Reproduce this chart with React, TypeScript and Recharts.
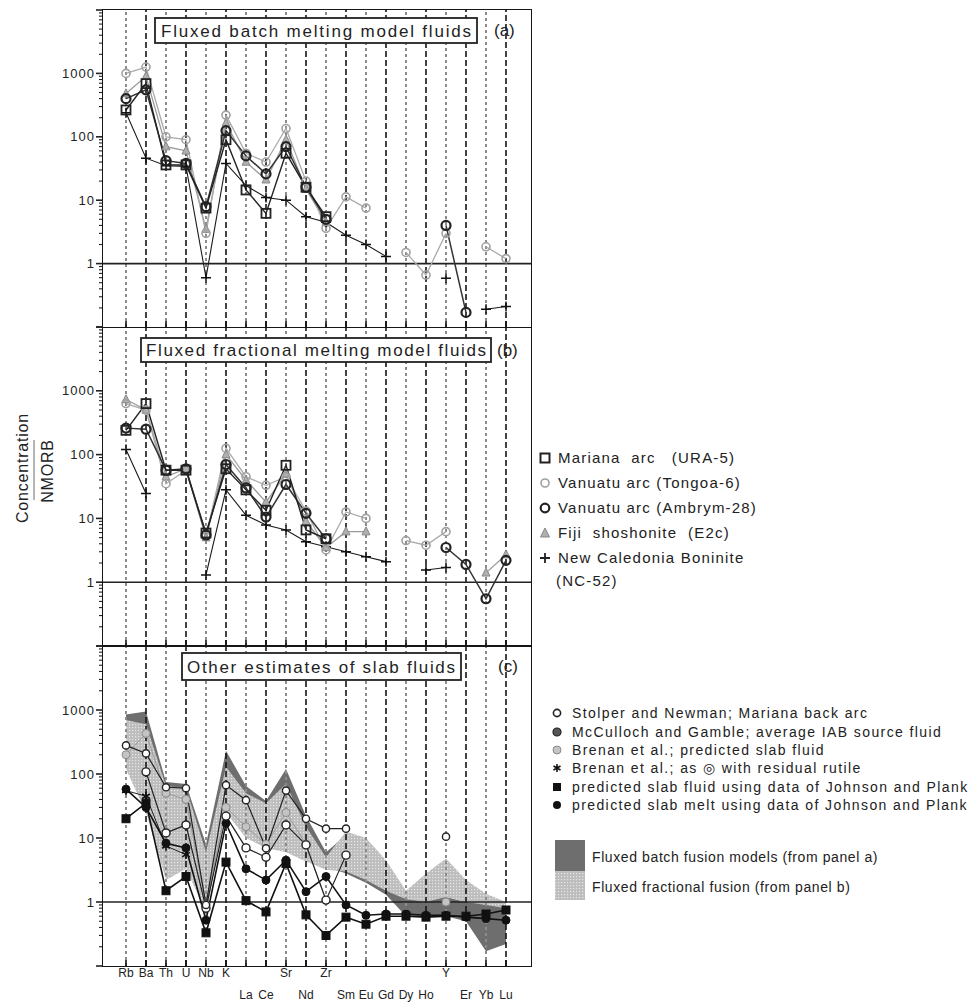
import React from 'react';
import { ComposedChart, Line, Area, XAxis, YAxis, ReferenceLine } from 'recharts';

const N = null;
const elements = ['Rb', 'Ba', 'Th', 'U', 'Nb', 'K', 'La', 'Ce', 'Sr', 'Nd', 'Zr', 'Sm', 'Eu', 'Gd', 'Dy', 'Ho', 'Y', 'Er', 'Yb', 'Lu'];
const lowerRow = ['La', 'Ce', 'Nd', 'Sm', 'Eu', 'Gd', 'Dy', 'Ho', 'Er', 'Yb', 'Lu'];
const yTicks = [0.1, 0.2, 0.3, 0.4, 0.5, 0.6, 0.7, 0.8, 0.9, 1, 2, 3, 4, 5, 6, 7, 8, 9, 10, 20, 30, 40, 50, 60, 70, 80, 90, 100, 200, 300, 400, 500, 600, 700, 800, 900, 1000, 2000, 3000, 4000, 5000, 6000, 7000, 8000, 9000, 10000];
const yLabels = [1, 10, 100, 1000];

// Panel (a) fluxed batch melting model fluids
const marianaA = [265, 690, 36, 36, 7.5, 90, 14.5, 6.2, 55, 16, 5.5, N, N, N, N, N, N, N, N, N];
const tongoaA = [1000, 1260, 100, 90, 3.0, 220, 55, 40, 135, 20, 3.6, 11.3, 7.5, N, 1.5, 0.66, 3.0, N, 1.84, 1.2];
const ambrymA = [400, 550, 42, 38, 7.9, 125, 50, 26, 70, 16, 5.0, N, N, N, N, N, 4.0, 0.17, N, N];
const fijiA = [480, 900, 70, 60, 3.5, 165, 40, 21, 90, 15, 4.5, N, N, N, N, N, N, N, N, N];
const ncA = [240, 46, 35, 34, 0.6, 38, 17, 11, 10, 5.5, 4.5, 2.8, 2.0, 1.3, N, N, 0.59, N, 0.19, 0.21];

// Panel (b) fluxed fractional melting model fluids
const marianaB = [240, 630, 57, 57, 5.9, 60, 28, 13.4, 68, 6.6, 4.8, N, N, N, N, N, N, N, N, N];
const tongoaB = [630, 500, 35, 57, 5.2, 125, 45, 33, 45, 13, 3.2, 12.6, 10, N, 4.5, 3.8, 6.2, N, N, N];
const ambrymB = [260, 250, 57, 60, 5.5, 70, 30, 10.5, 34, 12, 4.8, N, N, N, N, N, 3.5, 1.9, 0.55, 2.2];
const fijiB = [730, 500, 45, 60, 5.0, 100, 40, 18, 50, 9, 3.5, 6.2, 6.2, N, N, N, N, N, 1.4, 2.7];
const ncB = [120, 24.5, N, N, 1.3, 28, 11.2, 7.9, 6.6, 4.3, 3.6, 3.0, 2.5, 2.1, N, 1.55, 1.7, N, N, N];

// Panel (c) other estimates of slab fluids
const stolperC = [280, 210, 62, 60, 0.9, 67, 39, 6.9, 55, 20, 14, 14, N, N, N, N, 10.5, N, N, N];
const mccullochC = [N, 108, 12, 16, 0.8, 22, 7, 5, 16, 7.8, 1.07, 5.4, N, N, N, N, N, N, N, N];
const brenanC = [200, 430, 50, 40, 0.9, 30, 15, 8, 25, 8, 1.07, N, N, N, N, N, 1.0, N, N, N];
const rutileC = [55, 45, 7.5, 5.5, N, N, N, N, N, N, N, N, N, N, N, N, N, N, N, N];
const fluidC = [20, 35, 1.5, 2.5, 0.33, 4.2, 1.05, 0.7, 4.0, 0.63, 0.3, 0.58, 0.45, 0.6, 0.6, 0.58, 0.6, 0.6, 0.65, 0.75];
const meltC = [58, 30, 8.3, 7, 0.52, 17, 3.3, 2.2, 4.5, 1.45, 2.5, 0.9, 0.62, 0.65, 0.65, 0.62, 0.62, 0.58, 0.55, 0.52];
const batchLo = [240, 46, 30, 20, 0.6, 38, 17, 6, 10, 5, 3.6, 2.8, 2.0, 1.3, 0.6, 0.6, 0.6, 0.5, 0.17, 0.22];
const batchHi = [850, 950, 75, 70, 8, 230, 65, 38, 120, 22, 6, 11, 7.5, 4, 1.3, 1.1, 1.2, 1.0, 0.95, 0.9];
const fracLo = [120, 25, 2.2, 3.3, 0.7, 25, 10, 7, 6, 4.3, 3.2, 3.0, 2.2, 1.5, 1.1, 1.0, 1.2, 1.0, 0.9, 0.8];
const fracHi = [700, 600, 65, 60, 6, 130, 50, 35, 70, 15, 5, 12.6, 10, 4.5, 1.5, 2.8, 4.8, 2.2, 1.35, 1.0];

const rowsA = elements.map((el, i) => ({ i, el, mariana: marianaA[i], tongoa: tongoaA[i], ambrym: ambrymA[i], fiji: fijiA[i], nc: ncA[i] }));
const rowsB = elements.map((el, i) => ({ i, el, mariana: marianaB[i], tongoa: tongoaB[i], ambrym: ambrymB[i], fiji: fijiB[i], nc: ncB[i] }));
const rowsC = elements.map((el, i) => ({
  i, el, stolper: stolperC[i], mcculloch: mccullochC[i], brenan: brenanC[i], rutile: rutileC[i], fluid: fluidC[i], melt: meltC[i],
  batch: [batchLo[i], batchHi[i]], frac: [fracLo[i], fracHi[i]],
}));

const FONT = "'Liberation Sans', Arial, Helvetica, sans-serif";
const X_DOMAIN = [-1.15, 20.25];
const xTickVals = elements.map((_, i) => i);

const ok = (p: any) => p && p.cx != null && p.cy != null && !isNaN(p.cx) && !isNaN(p.cy) && p.value != null;
const empty = (p: any) => <g key={'e' + p.index} />;

const squareDot = (s: number, stroke: string, fill: string, sw: number) => (p: any) =>
  ok(p) ? <rect key={'s' + p.index} x={p.cx - s / 2} y={p.cy - s / 2} width={s} height={s} stroke={stroke} fill={fill} strokeWidth={sw} /> : empty(p);
const circleDot = (r: number, stroke: string, fill: string, sw: number) => (p: any) =>
  ok(p) ? <circle key={'c' + p.index} cx={p.cx} cy={p.cy} r={r} stroke={stroke} fill={fill} strokeWidth={sw} /> : empty(p);
const triDot = (s: number, stroke: string, fill: string) => (p: any) =>
  ok(p) ? <path key={'t' + p.index} d={`M${p.cx},${p.cy - s * 0.6} L${p.cx + s / 2},${p.cy + s * 0.4} L${p.cx - s / 2},${p.cy + s * 0.4} Z`} stroke={stroke} fill={fill} strokeWidth={1} /> : empty(p);
const plusDot = (a: number, stroke: string, sw: number) => (p: any) =>
  ok(p) ? <path key={'p' + p.index} d={`M${p.cx - a},${p.cy} H${p.cx + a} M${p.cx},${p.cy - a} V${p.cy + a}`} stroke={stroke} strokeWidth={sw} fill="none" /> : empty(p);
const starDot = (a: number, stroke: string) => (p: any) =>
  ok(p) ? <path key={'st' + p.index} d={`M${p.cx},${p.cy - a} V${p.cy + a} M${p.cx - a * 0.87},${p.cy - a / 2} L${p.cx + a * 0.87},${p.cy + a / 2} M${p.cx - a * 0.87},${p.cy + a / 2} L${p.cx + a * 0.87},${p.cy - a / 2}`} stroke={stroke} strokeWidth={1.6} fill="none" /> : empty(p);

const YTick = (props: any) => {
  const { x, y, payload } = props;
  const v = payload.value;
  const lg = Math.log10(v);
  const major = Math.abs(lg - Math.round(lg)) < 1e-6;
  const lab = yLabels.indexOf(v) >= 0;
  return (
    <g>
      <line x1={x - (major ? 7 : 4)} x2={x} y1={y} y2={y} stroke="#222" strokeWidth={major ? 1.6 : 1.1} />
      {lab ? (
        <text x={x - 8} y={y} dy={4.5} textAnchor="end" fontSize={13} fontFamily={FONT} letterSpacing={1} fill="#222">{String(v)}</text>
      ) : null}
    </g>
  );
};

const XTickPlain = (props: any) => {
  const { x, y } = props;
  return <line x1={x} x2={x} y1={y - 6} y2={y} stroke="#111" strokeWidth={1.6} />;
};

const XTickLabel = (props: any) => {
  const { x, y, payload } = props;
  const el = elements[payload.value];
  const low = lowerRow.indexOf(el) >= 0;
  return (
    <g>
      <line x1={x} x2={x} y1={y - 6} y2={y} stroke="#111" strokeWidth={1.6} />
      <text x={x} y={y + (low ? 33 : 11)} textAnchor="middle" fontSize={12} fontFamily={FONT} fill="#222">{el}</text>
    </g>
  );
};

const gridLines = () =>
  elements.map((el, i) => (
    <ReferenceLine
      key={'g' + el}
      x={i}
      stroke={i % 2 === 0 ? '#8c8c8c' : '#151515'}
      strokeWidth={i % 2 === 0 ? 2 : 1.6}
      strokeDasharray={i % 2 === 0 ? '3 3' : '6 3'}
      ifOverflow="visible"
    />
  ));

const axes = (tick: any, xh: number) => [
  <XAxis key="x" type="number" dataKey="i" domain={X_DOMAIN} ticks={xTickVals} interval={0} tickSize={0} tickMargin={0} axisLine={false} tickLine={false} tick={tick} height={xh} allowDataOverflow />,
  <YAxis key="y" type="number" scale="log" domain={[0.1, 10000]} ticks={yTicks} interval={0} tickSize={0} tickMargin={0} axisLine={false} tickLine={false} tick={<YTick />} width={103} allowDataOverflow />,
];

const modelLines = (suffix: string) => [
  <Line key={'nc' + suffix} dataKey="nc" stroke="#1a1a1a" strokeWidth={1.1} dot={plusDot(5, '#111', 1.5)} activeDot={false} isAnimationActive={false} connectNulls={false} />,
  <Line key={'fiji' + suffix} dataKey="fiji" stroke="#9a9a9a" strokeWidth={1.3} dot={triDot(8, '#888', '#b0b0b0')} activeDot={false} isAnimationActive={false} connectNulls={false} />,
  <Line key={'tongoa' + suffix} dataKey="tongoa" stroke="#ababab" strokeWidth={1.3} dot={circleDot(4, '#a0a0a0', 'none', 1.6)} activeDot={false} isAnimationActive={false} connectNulls={false} />,
  <Line key={'ambrym' + suffix} dataKey="ambrym" stroke="#333" strokeWidth={1.5} dot={circleDot(4.5, '#222', 'none', 2.2)} activeDot={false} isAnimationActive={false} connectNulls={false} />,
  <Line key={'mariana' + suffix} dataKey="mariana" stroke="#222" strokeWidth={1.4} dot={squareDot(9, '#222', 'none', 1.8)} activeDot={false} isAnimationActive={false} connectNulls={false} />,
];

const Box = ({ top, height }: { top: number; height: number }) => (
  <div style={{ position: 'absolute', left: 102, top, width: 430, height, border: '1.6px solid #151515', boxSizing: 'border-box' }} />
);

const T = (p: any) => <text fontFamily={FONT} fill="#222" {...p} />;

export default function App() {
  return (
    <div style={{ position: 'absolute', left: 0, top: 0, width: 980, height: 1003, background: '#fff', fontFamily: FONT }}>
      <div style={{ position: 'absolute', left: 0, top: 0 }}>
        <ComposedChart width={540} height={329} data={rowsA} margin={{ top: 10, right: 9, bottom: 0, left: 0 }}>
          {axes(<XTickPlain />, 2)}
          {gridLines()}
          <ReferenceLine y={1} stroke="#222" strokeWidth={1.6} ifOverflow="visible" />
          {modelLines('a')}
        </ComposedChart>
      </div>
      <div style={{ position: 'absolute', left: 0, top: 320 }}>
        <ComposedChart width={540} height={328} data={rowsB} margin={{ top: 7, right: 9, bottom: 0, left: 0 }}>
          {axes(<XTickPlain />, 2)}
          {gridLines()}
          <ReferenceLine y={1} stroke="#222" strokeWidth={1.6} ifOverflow="visible" />
          {modelLines('b')}
        </ComposedChart>
      </div>
      <div style={{ position: 'absolute', left: 0, top: 640 }}>
        <ComposedChart width={540} height={363} data={rowsC} margin={{ top: 6, right: 9, bottom: 0, left: 0 }}>
          <defs>
            <pattern id="stipple" width="3" height="3" patternUnits="userSpaceOnUse">
              <rect width="3" height="3" fill="#bdbdbd" />
              <rect width="1.2" height="1.2" fill="#e6e6e6" />
            </pattern>
          </defs>
          {axes(<XTickLabel />, 37)}
          <Area dataKey="batch" type="linear" stroke="none" fill="#6e6e6e" fillOpacity={1} dot={false} activeDot={false} isAnimationActive={false} />
          <Area dataKey="frac" type="linear" stroke="none" fill="url(#stipple)" fillOpacity={1} dot={false} activeDot={false} isAnimationActive={false} />
          {gridLines()}
          <ReferenceLine y={1} stroke="#222" strokeWidth={1.6} ifOverflow="visible" />
          <Line dataKey="brenan" stroke="#9a9a9a" strokeWidth={1} dot={circleDot(4, '#8a8a8a', '#c4c4c4', 1)} activeDot={false} isAnimationActive={false} connectNulls={false} />
          <Line dataKey="rutile" stroke="#222" strokeWidth={1} dot={starDot(4.5, '#111')} activeDot={false} isAnimationActive={false} connectNulls={false} />
          <Line dataKey="fluid" stroke="#111" strokeWidth={1.6} dot={squareDot(8, '#111', '#111', 1)} activeDot={false} isAnimationActive={false} connectNulls={false} />
          <Line dataKey="melt" stroke="#111" strokeWidth={1.6} dot={circleDot(4, '#111', '#111', 1)} activeDot={false} isAnimationActive={false} connectNulls={false} />
          <Line dataKey="mcculloch" stroke="#222" strokeWidth={1.2} dot={circleDot(4, '#222', '#fff', 1.4)} activeDot={false} isAnimationActive={false} connectNulls={false} />
          <Line dataKey="stolper" stroke="#222" strokeWidth={1.2} dot={circleDot(3.6, '#222', '#fff', 1.4)} activeDot={false} isAnimationActive={false} connectNulls={false} />
        </ComposedChart>
      </div>

      <Box top={9} height={319} />
      <Box top={327} height={320} />
      <Box top={645} height={322} />

      <svg width={980} height={1003} style={{ position: 'absolute', left: 0, top: 0, pointerEvents: 'none' }}>
        {/* panel titles */}
        <rect x={155} y={18} width={322} height={25} fill="#fff" stroke="#222" strokeWidth={1.8} />
        <T x={316} y={37} fontSize={17} textAnchor="middle" textLength={310} lengthAdjust="spacing">Fluxed batch melting model fluids</T>
        <T x={494} y={36} fontSize={17}>(a)</T>
        <rect x={141} y={338} width={350} height={24} fill="#fff" stroke="#222" strokeWidth={1.8} />
        <T x={316} y={356} fontSize={17} textAnchor="middle" textLength={340} lengthAdjust="spacing">Fluxed fractional melting model fluids</T>
        <T x={497} y={356} fontSize={17}>(b)</T>
        <rect x={182} y={653} width={279} height={27} fill="#fff" stroke="#222" strokeWidth={1.8} />
        <T x={321} y={673} fontSize={17} textAnchor="middle" textLength={268} lengthAdjust="spacing">Other estimates of slab fluids</T>
        <T x={498} y={672} fontSize={17}>(c)</T>

        {/* y axis title */}
        <T x={0} y={0} fontSize={16} textAnchor="middle" letterSpacing={0.8} transform="translate(28,468) rotate(-90)">Concentration</T>
        <line x1={34} x2={34} y1={440} y2={500} stroke="#444" strokeWidth={0.8} />
        <T x={0} y={0} fontSize={16} textAnchor="middle" letterSpacing={0.8} transform="translate(53,471) rotate(-90)">NMORB</T>

        {/* legend panel b */}
        <rect x={540.5} y={453.5} width={9} height={9} fill="none" stroke="#222" strokeWidth={2} />
        <T x={558} y={463} fontSize={15} letterSpacing={1.2} xmlSpace="preserve">Mariana  arc   (URA-5)</T>
        <circle cx={545} cy={483} r={4} fill="none" stroke="#a0a0a0" strokeWidth={1.6} />
        <T x={558} y={488} fontSize={15} letterSpacing={1.2}>Vanuatu arc (Tongoa-6)</T>
        <circle cx={545} cy={508} r={4.3} fill="none" stroke="#222" strokeWidth={2.2} />
        <T x={558} y={513} fontSize={15} letterSpacing={1.2}>Vanuatu arc (Ambrym-28)</T>
        <path d="M545,528 L549.5,537 L540.5,537 Z" fill="#b0b0b0" stroke="#888" strokeWidth={1} />
        <T x={558} y={538} fontSize={15} letterSpacing={1.2} xmlSpace="preserve">Fiji  shoshonite  (E2c)</T>
        <path d="M540,558 H550 M545,553 V563" stroke="#222" strokeWidth={1.8} />
        <T x={558} y={563} fontSize={15} letterSpacing={1.2}>New Caledonia Boninite</T>
        <T x={556} y={586} fontSize={15} letterSpacing={1.2}>(NC-52)</T>

        {/* legend panel c */}
        <circle cx={557} cy={713} r={3.6} fill="#fff" stroke="#222" strokeWidth={1.6} />
        <T x={572} y={718} fontSize={14} letterSpacing={1.4}>Stolper and Newman; Mariana back arc</T>
        <circle cx={557} cy={732} r={4} fill="#555" stroke="#222" strokeWidth={1.2} />
        <T x={572} y={737} fontSize={14} letterSpacing={1.4}>McCulloch and Gamble; average IAB source fluid</T>
        <circle cx={557} cy={750} r={4} fill="#c4c4c4" stroke="#8a8a8a" strokeWidth={1} />
        <T x={572} y={755} fontSize={14} letterSpacing={1.4}>Brenan et al.; predicted slab fluid</T>
        <path d="M557,764 V772 M553.5,766 L560.5,770 M553.5,770 L560.5,766" stroke="#111" strokeWidth={1.6} />
        <T x={572} y={773} fontSize={14} letterSpacing={1.4}>Brenan et al.; as ◎ with residual rutile</T>
        <rect x={553} y={783} width={8} height={8} fill="#111" />
        <T x={572} y={792} fontSize={14} letterSpacing={1.4}>predicted slab fluid using data of Johnson and Plank</T>
        <circle cx={557} cy={805} r={4} fill="#111" />
        <T x={572} y={810} fontSize={14} letterSpacing={1.4}>predicted slab melt using data of Johnson and Plank</T>

        <defs>
          <pattern id="stipple2" width="3" height="3" patternUnits="userSpaceOnUse">
            <rect width="3" height="3" fill="#bdbdbd" />
            <rect width="1.2" height="1.2" fill="#e6e6e6" />
          </pattern>
        </defs>
        <rect x={555} y={840} width={30} height={31} fill="#6e6e6e" />
        <rect x={555} y={871} width={30} height={29} fill="url(#stipple2)" />
        <T x={592} y={862} fontSize={14} letterSpacing={0.6}>Fluxed batch fusion models (from panel a)</T>
        <T x={592} y={892} fontSize={14} letterSpacing={0.6}>Fluxed fractional fusion (from panel b)</T>
      </svg>
    </div>
  );
}
